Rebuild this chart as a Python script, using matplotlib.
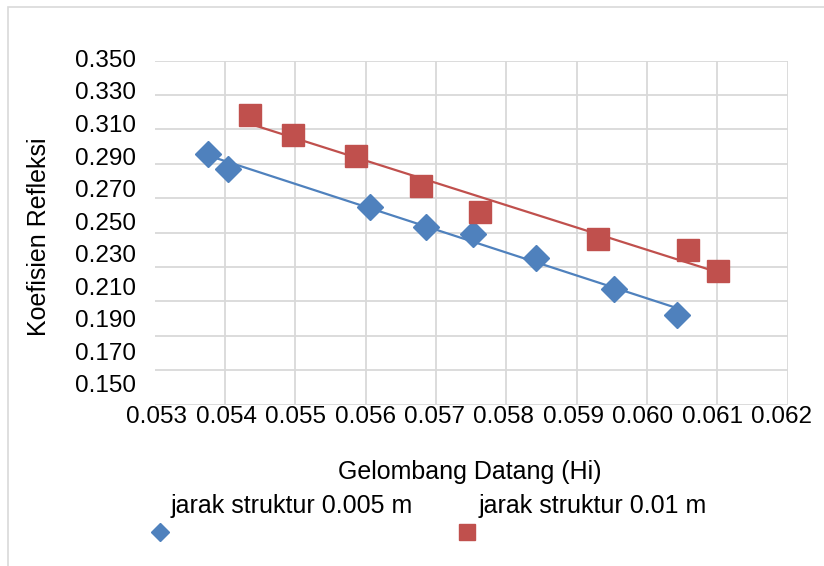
import numpy as np
import matplotlib
matplotlib.use("Agg")
import matplotlib.pyplot as plt
from matplotlib.lines import Line2D
from matplotlib.patches import Rectangle

plt.rcParams['font.family'] = ['Liberation Sans', 'DejaVu Sans']

# Incident wave height (Hi) and reflection coefficient for two structure spacings
hi_005 = [0.05376, 0.05405, 0.05606, 0.05686, 0.05753, 0.05842, 0.05953, 0.06043]
kr_005 = [0.2955, 0.2870, 0.2650, 0.2535, 0.2494, 0.2350, 0.2174, 0.2023]

hi_01 = [0.05436, 0.05497, 0.05587, 0.05679, 0.05763, 0.05930, 0.06058, 0.06101]
kr_01 = [0.3186, 0.3070, 0.2944, 0.2769, 0.2620, 0.2463, 0.2401, 0.2275]

series_labels = ["jarak struktur 0.005 m", "jarak struktur 0.01 m"]
x_ticks = [0.053, 0.054, 0.055, 0.056, 0.057, 0.058, 0.059, 0.060, 0.061, 0.062]
y_ticks = [0.150, 0.170, 0.190, 0.210, 0.230, 0.250, 0.270, 0.290, 0.310, 0.330, 0.350]

BLUE = "#4f81bd"
RED = "#c0504d"
GRID = "#d9d9d9"
FS_TICK = 17.5
FS = 18

W, H = 824, 566
fig = plt.figure(figsize=(W / 100, H / 100), dpi=100)

def fx(px):
    return px / W

def fy(py):
    return 1 - py / H

def box(left, top, right, bottom):
    return [fx(left), fy(bottom), fx(right) - fx(left), fy(top) - fy(bottom)]

XLIM = (0.053, 0.062)
YLIM = (0.150, 0.350)

# Plot area: grid, trend lines and markers
ax = fig.add_axes(box(154.5, 60.6, 787.7, 404.6))

for xs, ys, c in [(hi_005, kr_005, BLUE), (hi_01, kr_01, RED)]:
    xs = np.asarray(xs)
    m, b = np.polyfit(xs, ys, 1)
    xl = np.array([xs.min(), xs.max()])
    ax.plot(xl, m * xl + b, color=c, lw=1.6, zorder=3)

ax.plot(hi_005, kr_005, linestyle='none', marker='D', ms=13, color=BLUE,
        markeredgecolor=BLUE, zorder=4)
ax.plot(hi_01, kr_01, linestyle='none', marker='s', ms=16, color=RED,
        markeredgecolor=RED, zorder=4)

ax.set_xlim(*XLIM)
ax.set_ylim(*YLIM)
ax.set_xticks(x_ticks)
ax.set_yticks(y_ticks)
ax.tick_params(axis='both', length=0, labelbottom=False, labelleft=False)
ax.grid(True, color=GRID, lw=1.3, zorder=0)
ax.set_axisbelow(True)
for s in ax.spines.values():
    s.set_visible(False)

# Tick-label axes (value labels are laid out on a slightly tighter scale)
def label_axes(rect):
    la = fig.add_axes(rect)
    la.set_xlim(*XLIM)
    la.set_ylim(*YLIM)
    la.patch.set_visible(False)
    for s in la.spines.values():
        s.set_visible(False)
    return la

lx = label_axes(box(156.7, 60.6, 781.7, 404.6))
lx.set_xticks(x_ticks)
lx.set_xticklabels([f"{v:.3f}" for v in x_ticks])
lx.set_yticks([])
lx.tick_params(axis='x', length=0, labelsize=FS_TICK, pad=1)

ly = label_axes(box(154.5, 58.3, 787.7, 384.0))
ly.set_yticks(y_ticks)
ly.set_yticklabels([f"{v:.3f}" for v in y_ticks])
ly.set_xticks([])
ly.tick_params(axis='y', length=0, labelsize=FS_TICK, pad=13)

fig.text(fx(470), fy(471.7), "Gelombang Datang (Hi)", ha='center', va='center', fontsize=FS)
fig.text(fx(39.5), fy(237), "Koefisien Refleksi", ha='center', va='center',
         rotation=90, fontsize=FS)

# Legend: label text above each marker
fig.text(fx(171), fy(506), series_labels[0], ha='left', va='center', fontsize=FS)
fig.text(fx(479), fy(506), series_labels[1], ha='left', va='center', fontsize=FS)
fig.add_artist(Line2D([fx(159.7)], [fy(531.7)], transform=fig.transFigure,
                      marker='D', ms=9, color=BLUE, linestyle='none'))
fig.add_artist(Line2D([fx(467.3)], [fy(531.7)], transform=fig.transFigure,
                      marker='s', ms=11.5, color=RED, linestyle='none'))

# Chart area border
fig.add_artist(Rectangle((fx(8), fy(H + 10)), fx(W + 20) - fx(8), fy(6.5) - fy(H + 10),
                         transform=fig.transFigure, fill=False, edgecolor=GRID, lw=1.2))

fig.savefig("out.png", dpi=100)
